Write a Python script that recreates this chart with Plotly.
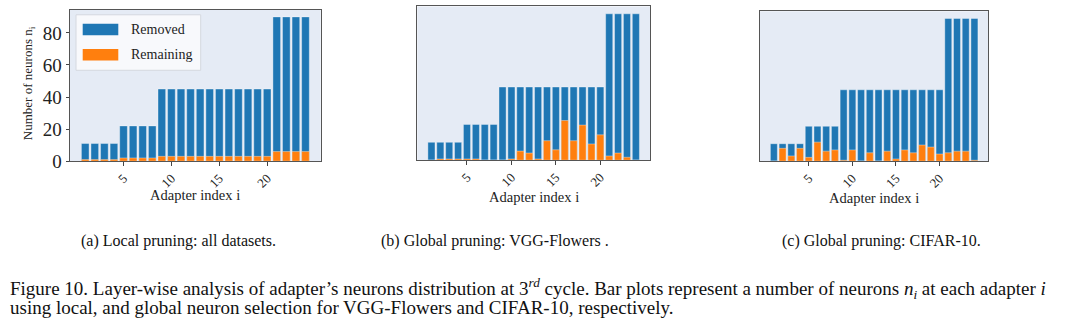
import plotly.graph_objects as go

# ---------------- data ----------------
adapter_index = list(range(1, 25))
total_neurons = [11, 11, 11, 11, 22, 22, 22, 22] + [45] * 12 + [90, 90, 90, 90]
remaining_local = [1, 1, 1, 1, 2, 2, 2, 2] + [3] * 12 + [6, 6, 6, 6]
remaining_vgg = [0, 0.8, 0.8, 0.8, 0.8, 0.8, 0, 0, 0, 0.8, 5.6, 4.4,
                 0.8, 12, 6.4, 24.4, 12, 21.6, 10, 15.6, 2.6, 4.4, 1.8, 0]
remaining_cifar = [0, 8.1, 3.3, 8.1, 2.4, 12, 6.3, 7.1, 0.6, 7.1, 0, 5.3,
                   0, 6.3, 1.4, 7.1, 5.3, 10.2, 8.9, 4.5, 5.3, 6.3, 6.3, 0.6]
x_ticks = [5, 10, 15, 20]
y_ticks = [0, 20, 40, 60, 80]
panel_captions = ["(a) Local pruning: all datasets.",
                  "(b) Global pruning: VGG-Flowers .",
                  "(c) Global pruning: CIFAR-10."]
legend_labels = ["Removed", "Remaining"]

BLUE = "#1f77b4"
ORANGE = "#ff7f0e"
BG = "#E5EBF5"
FONT = "Liberation Serif"
W, H = 1080, 332


def px(x):
    return x / W


def py(y):
    return 1 - y / H


panels = [
    dict(rem=remaining_local, xd=[70, 320.7], yd=[166.7, 10.0], cap_x=178),
    dict(rem=remaining_vgg, xd=[417.3, 650.0], yd=[165.7, 6.7], cap_x=495),
    dict(rem=remaining_cifar, xd=[760.0, 988.3], yd=[166.7, 11.7], cap_x=881),
]

fig = go.Figure()
annotations = []
shapes = []
layout = {}

for k, p in enumerate(panels):
    sfx = "" if k == 0 else str(k + 1)
    xa, ya = "x" + sfx, "y" + sfx
    fig.add_trace(go.Bar(x=adapter_index, y=total_neurons, width=0.8,
                         marker=dict(color=BLUE, line=dict(color="rgba(255,255,255,0.45)", width=0.8)),
                         xaxis=xa, yaxis=ya, showlegend=False, name=legend_labels[0]))
    fig.add_trace(go.Bar(x=adapter_index, y=p["rem"], width=0.8,
                         marker=dict(color=ORANGE, line=dict(color="rgba(255,255,255,0.45)", width=0.8)),
                         xaxis=xa, yaxis=ya, showlegend=False, name=legend_labels[1]))
    layout["xaxis" + sfx] = dict(
        domain=[px(p["xd"][0]), px(p["xd"][1])], anchor=ya,
        range=[-0.59, 25.59], tickvals=x_ticks, tickangle=-45,
        ticks="outside", ticklen=3.5, tickcolor="#444",
        tickfont=dict(family=FONT, size=13, color="#222"),
        showgrid=False, zeroline=False, showline=True, mirror=True,
        linecolor="#555", linewidth=1)
    layout["yaxis" + sfx] = dict(
        domain=[py(p["yd"][0]), py(p["yd"][1])], anchor=xa,
        range=[0, 94.5], tickvals=y_ticks,
        ticks="outside" if k == 0 else "", ticklen=3.5, tickcolor="#444",
        showticklabels=(k == 0),
        tickfont=dict(family=FONT, size=19, color="#222"),
        showgrid=False, zeroline=False, showline=True, mirror=True,
        linecolor="#555", linewidth=1)
    # x-axis title
    annotations.append(dict(text="Adapter index i", xref="paper", yref="paper",
                            x=px((p["xd"][0] + p["xd"][1]) / 2), y=py(202 + k * 1.5),
                            xanchor="center", yanchor="middle", showarrow=False,
                            font=dict(family=FONT, size=14.5, color="#222")))
    # subfigure caption
    annotations.append(dict(text=panel_captions[k], xref="paper", yref="paper",
                            x=px(p["cap_x"]), y=py(249), xanchor="center", yanchor="middle",
                            showarrow=False, font=dict(family=FONT, size=16, color="#111")))

# y-axis title
annotations.append(dict(text="Number of neurons n<sub>i</sub>", xref="paper", yref="paper",
                        x=px(28), y=py(86), textangle=-90, xanchor="center", yanchor="middle",
                        showarrow=False, font=dict(family=FONT, size=13, color="#222")))

# custom legend in panel (a)
shapes.append(dict(type="rect", xref="paper", yref="paper",
                   x0=px(76), x1=px(200.7), y0=py(72.7), y1=py(15.3),
                   fillcolor="rgba(250,251,253,0.9)", line=dict(color="#d4d8df", width=1)))
for i, (lab, col, yc) in enumerate(zip(legend_labels, [BLUE, ORANGE], [30.5, 56.7])):
    shapes.append(dict(type="rect", xref="paper", yref="paper",
                       x0=px(82.7), x1=px(118.3), y0=py(yc + 6), y1=py(yc - 6),
                       fillcolor=col, line=dict(width=0)))
    annotations.append(dict(text=lab, xref="paper", yref="paper", x=px(129), y=py(yc),
                            xanchor="left", yanchor="middle", showarrow=False,
                            font=dict(family=FONT, size=14, color="#222")))

# figure caption
cap1 = ("Figure 10. Layer-wise analysis of adapter’s neurons distribution at 3<sup><i>rd</i></sup> "
        "cycle. Bar plots represent a number of neurons <i>n<sub>i</sub></i> at each adapter <i>i</i>")
cap2 = "using local, and global neuron selection for VGG-Flowers and CIFAR-10, respectively."
annotations.append(dict(text=cap1, xref="paper", yref="paper", x=px(8), y=py(298),
                        xanchor="left", yanchor="middle", showarrow=False,
                        font=dict(family=FONT, size=19, color="#111")))
annotations.append(dict(text=cap2, xref="paper", yref="paper", x=px(8), y=py(318),
                        xanchor="left", yanchor="middle", showarrow=False,
                        font=dict(family=FONT, size=19, color="#111")))

fig.update_layout(
    width=W, height=H, margin=dict(l=0, r=0, t=0, b=0),
    paper_bgcolor="white", plot_bgcolor=BG, barmode="overlay",
    annotations=annotations, shapes=shapes, **layout)

fig.write_html("out.html")
